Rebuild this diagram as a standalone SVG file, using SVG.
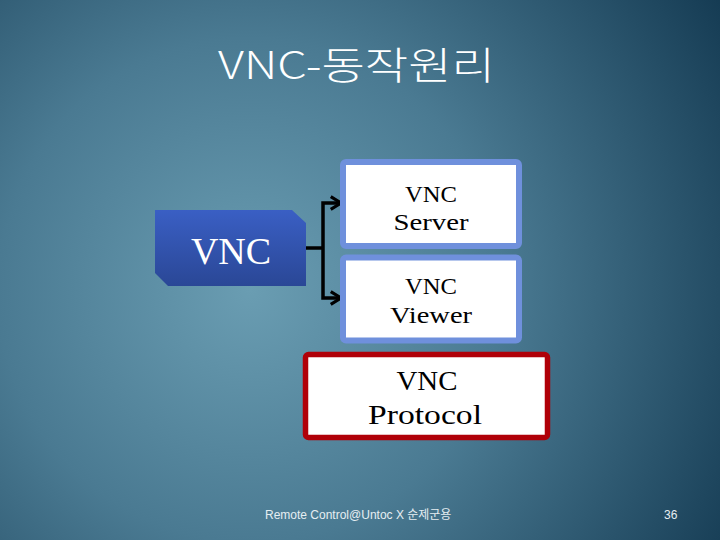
<svg xmlns="http://www.w3.org/2000/svg" width="720" height="540" viewBox="0 0 720 540">
<defs>
<radialGradient id="bg" cx="250" cy="290" r="560" gradientUnits="userSpaceOnUse">
<stop offset="0" stop-color="#6a9db2"/>
<stop offset="0.45" stop-color="#4a7a92"/>
<stop offset="1" stop-color="#143a52"/>
</radialGradient>
<linearGradient id="vncfill" x1="0" y1="0" x2="0" y2="1">
<stop offset="0" stop-color="#3a5fc4"/>
<stop offset="1" stop-color="#2a4796"/>
</linearGradient>
<marker id="arr" viewBox="0 0 10 10" refX="8" refY="5" markerWidth="4.5" markerHeight="4.5" orient="auto" markerUnits="strokeWidth">
<path d="M1.5,1 L8,5 L1.5,9" fill="none" stroke="#000" stroke-width="2"/>
</marker>
<style>
.box{fill:#fff;stroke:#6f90dc;stroke-width:6}
.red{fill:#fff;stroke:#b00008;stroke-width:5.5}
.t{font-family:"Liberation Serif","Times New Roman",serif;fill:#000;text-anchor:middle}
.conn{fill:none;stroke:#000;stroke-width:3.5}
</style>
</defs>
<rect width="720" height="540" fill="url(#bg)"/>
<text x="218" y="79" font-family="'Noto Sans CJK KR','Noto Sans',sans-serif" font-weight="300" font-size="38" fill="#fff" textLength="277" lengthAdjust="spacingAndGlyphs">VNC-동작원리</text>
<g id="vnc">
<polygon points="155,210 292,210 306,223 306,286 168,286 155,273" fill="url(#vncfill)"/>
<text x="231" y="264" font-family="'Liberation Serif',serif" font-size="38" fill="#fff" text-anchor="middle">VNC</text>
</g>
<g id="connectors">
<polyline class="conn" points="306,248 323,248"/>
<polyline class="conn" points="323,248 323,203 341,203" marker-end="url(#arr)"/>
<polyline class="conn" points="323,248 323,298 341,298" marker-end="url(#arr)"/>
</g>
<g id="server">
<rect class="box" x="343" y="162" width="176" height="84" rx="3"/>
<text class="t" x="431" y="202" font-size="24" textLength="52" lengthAdjust="spacingAndGlyphs">VNC</text>
<text class="t" x="431" y="230" font-size="24" textLength="75" lengthAdjust="spacingAndGlyphs">Server</text>
</g>
<g id="viewer">
<rect class="box" x="343" y="257.5" width="176" height="83" rx="3"/>
<text class="t" x="431" y="294" font-size="24" textLength="52" lengthAdjust="spacingAndGlyphs">VNC</text>
<text class="t" x="431" y="323" font-size="24" textLength="82" lengthAdjust="spacingAndGlyphs">Viewer</text>
</g>
<g id="protocol">
<rect class="red" x="305.5" y="354.5" width="242" height="83" rx="3"/>
<text class="t" x="427" y="390" font-size="28" textLength="61" lengthAdjust="spacingAndGlyphs">VNC</text>
<text class="t" x="425" y="424" font-size="28" textLength="114" lengthAdjust="spacingAndGlyphs">Protocol</text>
</g>
<text x="265" y="519" font-family="'Liberation Sans','Noto Sans CJK KR',sans-serif" font-size="12" fill="#e6eef2">Remote Control@Untoc X 순제군용</text>
<text x="664" y="519" font-family="'Liberation Sans',sans-serif" font-size="12" fill="#e6eef2">36</text>
</svg>
